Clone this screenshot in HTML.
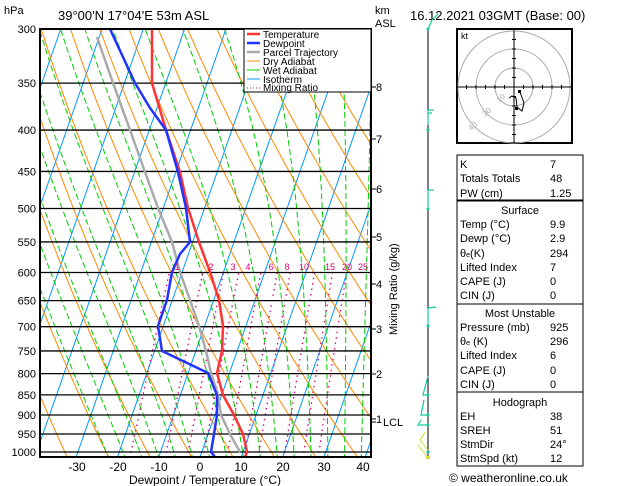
<!DOCTYPE html>
<html><head><meta charset="utf-8"><style>
body{margin:0;background:#fff;width:629px;height:486px;overflow:hidden;font-family:"Liberation Sans",sans-serif}
svg{display:block}
</style></head><body>
<svg id="s" width="629" height="486" xmlns="http://www.w3.org/2000/svg" font-family="Liberation Sans, sans-serif">
<defs><clipPath id="c"><rect x="40" y="29" width="331" height="428"/></clipPath></defs>
<g id="bg" clip-path="url(#c)"></g>
<g id="pl" stroke="#000" stroke-width="1.3"></g>
<g clip-path="url(#c)" fill="none" stroke-width="2.5" stroke-linejoin="round">
<polyline stroke="#aaa" points="97,37 113,83 130,130 145,172 158,208 172,242 180,272 190,300 199,326 206,351 211,373 218,395 221,415 230,434 240,452"/>
<polyline stroke="#f33" points="152,29 152,83 166,130 180,172 188,208 199,242 210,272 219,300 223,326 222,351 217,373 223,395 234,415 243,434 247,452 245,457"/>
<polyline stroke="#2233ff" points="110,29 135,83 150,108 166,130 178,172 186,208 190,242 180,254 172,272 167,300 158,326 162,351 208,373 217,395 217,415 214,434 211,452 215,457"/>
</g>
<rect x="40" y="29" width="331" height="428" fill="none" stroke="#000" stroke-width="2"/>
<g font-size="11" text-anchor="end" id="pt"></g>
<g font-size="12" text-anchor="middle">
<text x="77" y="471">-30</text><text x="118" y="471">-20</text><text x="159" y="471">-10</text><text x="200" y="471">0</text><text x="241" y="471">10</text><text x="283" y="471">20</text><text x="324" y="471">30</text><text x="363" y="471">40</text>
<text x="205" y="484">Dewpoint / Temperature (°C)</text>
</g>
<text x="4" y="14" font-size="11">hPa</text>
<text x="58" y="20" font-size="13">39°00'N  17°04'E  53m  ASL</text>
<text x="375" y="14" font-size="11">km</text><text x="375" y="27" font-size="11">ASL</text>
<text x="410" y="20" font-size="13">16.12.2021  03GMT  (Base: 00)</text>
<g font-size="11" id="km">
<text x="376" y="91">8</text><text x="376" y="143">7</text><text x="376" y="193">6</text><text x="376" y="241">5</text><text x="376" y="288">4</text><text x="376" y="333">3</text><text x="376" y="378">2</text><text x="376" y="423">1</text><text x="383" y="426">LCL</text>
</g>
<g stroke="#000"><line x1="371" y1="87" x2="376" y2="87"/><line x1="371" y1="139" x2="376" y2="139"/><line x1="371" y1="189" x2="376" y2="189"/><line x1="371" y1="237" x2="376" y2="237"/><line x1="371" y1="284" x2="376" y2="284"/><line x1="371" y1="329" x2="376" y2="329"/><line x1="371" y1="374" x2="376" y2="374"/><line x1="371" y1="419" x2="376" y2="419"/><line x1="371" y1="422" x2="376" y2="422"/></g>
<text transform="translate(397,335) rotate(-90)" font-size="11">Mixing Ratio (g/kg)</text>
<g font-size="9" fill="#e0007a" text-anchor="middle">
<text x="177" y="270">1</text><text x="211" y="270">2</text><text x="233" y="270">3</text><text x="248" y="270">4</text><text x="271" y="270">6</text><text x="287" y="270">8</text><text x="304" y="270">10</text><text x="330" y="270">15</text><text x="347" y="270">20</text><text x="363" y="270">25</text>
</g>
<rect x="244" y="29" width="127" height="63" fill="#fff" stroke="#000"/>
<g font-size="10">
<line x1="247" y1="34" x2="260" y2="34" stroke="#f33" stroke-width="2.5"/><text x="263" y="38">Temperature</text>
<line x1="247" y1="43" x2="260" y2="43" stroke="#2233ff" stroke-width="2.5"/><text x="263" y="47">Dewpoint</text>
<line x1="247" y1="52" x2="260" y2="52" stroke="#aaa" stroke-width="2.5"/><text x="263" y="56">Parcel Trajectory</text>
<line x1="247" y1="61" x2="260" y2="61" stroke="#f80"/><text x="263" y="65">Dry Adiabat</text>
<line x1="247" y1="70" x2="260" y2="70" stroke="#0c0"/><text x="263" y="74">Wet Adiabat</text>
<line x1="247" y1="79" x2="260" y2="79" stroke="#09f"/><text x="263" y="83">Isotherm</text>
<line x1="247" y1="88" x2="260" y2="88" stroke="#e0007a" stroke-dasharray="1,2"/><text x="263" y="91">Mixing Ratio</text>
</g>
<!-- wind column -->
<line x1="428" y1="29" x2="428" y2="457" stroke="#000"/>
<g stroke="#1c9" fill="none" stroke-width="1.2">
<polyline points="428,29 432,20 438,14"/><polyline points="428,110 428,125"/><polyline points="428,110 434,110"/><polyline points="428,113 432,113"/>
<polyline points="428,190 428,208"/><polyline points="428,190 434,190"/>
<polyline points="428,308 428,325"/><polyline points="428,308 436,307"/>
<polyline points="428,376 423,395 428,395"/><polyline points="424,400 421,415 428,415"/><polyline points="421,420 418,425 428,425"/>
</g>
<g stroke="#cd3" fill="none"><polyline points="428,450 420,440 425,432"/><polyline points="428,458 418,445"/></g>
<g fill="#1c9"><circle cx="428" cy="29" r="1.5"/><circle cx="428" cy="130" r="1.5"/><circle cx="428" cy="209" r="1.5"/><circle cx="428" cy="326" r="1.5"/><circle cx="428" cy="395" r="1.5"/><circle cx="428" cy="415" r="1.5"/><circle cx="428" cy="425" r="1.5"/><circle cx="428" cy="452" r="1.5"/></g>
<rect x="426" y="456" width="4" height="3" fill="#dd3"/>
<!-- hodograph -->
<rect x="457" y="29" width="115" height="114" fill="#fff" stroke="#000" stroke-width="2"/>
<g fill="none" stroke="#aaa"><circle cx="514" cy="87" r="19"/><circle cx="514" cy="87" r="38"/><circle cx="514" cy="87" r="56"/></g>
<g stroke="#000"><line x1="457" y1="87" x2="572" y2="87"/><line x1="514" y1="29" x2="514" y2="143"/></g>
<g id="ht" stroke="#000"></g>
<text x="461" y="39" font-size="9">kt</text>
<g font-size="8" fill="#aaa"><text x="499" y="103" transform="rotate(-40 499 103)">10</text><text x="485" y="117" transform="rotate(-40 485 117)">30</text><text x="471" y="131" transform="rotate(-40 471 131)">40</text></g>
<polyline points="520,92 524,103 522,111 517,107 516,98 512,96 509,98" fill="none" stroke="#000"/>
<rect x="518" y="90" width="3" height="3"/><rect x="515" y="107" width="3" height="3"/>
<!-- tables -->
<g fill="none" stroke="#000"><rect x="457" y="155" width="126" height="45"/><rect x="457" y="201" width="126" height="103"/><rect x="457" y="304" width="126" height="88"/><rect x="457" y="392" width="126" height="74"/></g>
<g font-size="11">
<text x="460" y="168">K</text><text x="550" y="168">7</text>
<text x="460" y="182">Totals Totals</text><text x="550" y="182">48</text>
<text x="460" y="197">PW (cm)</text><text x="550" y="197">1.25</text>
<text x="520" y="214" text-anchor="middle">Surface</text>
<text x="460" y="228">Temp (°C)</text><text x="550" y="228">9.9</text>
<text x="460" y="242">Dewp (°C)</text><text x="550" y="242">2.9</text>
<text x="460" y="257">θ<tspan font-size="7">e</tspan>(K)</text><text x="550" y="257">294</text>
<text x="460" y="271">Lifted Index</text><text x="550" y="271">7</text>
<text x="460" y="285">CAPE (J)</text><text x="550" y="285">0</text>
<text x="460" y="299">CIN (J)</text><text x="550" y="299">0</text>
<text x="520" y="317" text-anchor="middle">Most Unstable</text>
<text x="460" y="331">Pressure (mb)</text><text x="550" y="331">925</text>
<text x="460" y="345">θ<tspan font-size="7">e</tspan> (K)</text><text x="550" y="345">296</text>
<text x="460" y="359">Lifted Index</text><text x="550" y="359">6</text>
<text x="460" y="374">CAPE (J)</text><text x="550" y="374">0</text>
<text x="460" y="388">CIN (J)</text><text x="550" y="388">0</text>
<text x="520" y="406" text-anchor="middle">Hodograph</text>
<text x="460" y="420">EH</text><text x="550" y="420">38</text>
<text x="460" y="434">SREH</text><text x="550" y="434">51</text>
<text x="460" y="448">StmDir</text><text x="550" y="448">24°</text>
<text x="460" y="462">StmSpd (kt)</text><text x="550" y="462">12</text>
<text x="449" y="482" font-size="12">© weatheronline.co.uk</text>
</g>
</svg>
<script>
var NS="http://www.w3.org/2000/svg";
function Y(p){return 29+423*Math.log(p/300)/Math.log(1000/300);}
function X(T,p){return 200+4.13*T+0.35*(457-Y(p));}
function el(par,tag,a){var e=document.createElementNS(NS,tag);for(var k in a)e.setAttribute(k,a[k]);document.getElementById(par).appendChild(e);return e;}
function line(pts,st,dash,w){el("bg","polyline",{points:pts.map(function(q){return q[0].toFixed(1)+","+q[1].toFixed(1)}).join(" "),fill:"none",stroke:st,"stroke-width":w||1,"stroke-dasharray":dash||"none"});}
var P=[];for(var p=1050;p>=290;p-=10)P.push(p);
// isotherms
for(var T=-120;T<=50;T+=10){line([[X(T,1050),Y(1050)],[X(T,290),Y(290)]],"#09f");}
// dry adiabats
for(var th=230;th<=480;th+=10){line(P.map(function(p){var t=th*Math.pow(p/1000,0.286)-273.15;return [X(t,p),Y(p)]}),"#f80");}
// wet adiabats
function es(t){return 6.112*Math.exp(17.67*t/(t+243.5));}
function gam(t,p){var T=t+273.15,e=es(t),r=0.622*e/(p-e),L=2.5e6;var num=(287*T+L*r)/(1004+L*L*r*0.622/(287*T*T));return num/p;}
for(var t0=-20;t0<=40;t0+=4){var pts=[],t=t0,p=1050;pts.push([X(t,p),Y(p)]);while(p>290){var dp=-5;t+=gam(t,p)*dp;p+=dp;pts.push([X(t,p),Y(p)]);}line(pts,"#0c0","6,3");}
// mixing ratio
[1,2,3,4,6,8,10,15,20,25].forEach(function(w){var pts=[];for(var p=1050;p>=600;p-=10){var e=w*p/(622+w),l=Math.log(e/6.112),td=243.5*l/(17.67-l);pts.push([X(td,p),Y(p)]);}line(pts,"#e0007a","1.5,4",1.3);});
// pressure lines
[300,350,400,450,500,550,600,650,700,750,800,850,900,950,1000].forEach(function(p){var y=Y(p);el("pl","line",{x1:40,x2:371,y1:y,y2:y});var t=el("pt","text",{x:36,y:y+4});t.textContent=p;});
// hodo ticks
for(var i=-5;i<=5;i++){if(!i)continue;el("ht","line",{x1:514+i*9.5,x2:514+i*9.5,y1:85,y2:89});el("ht","line",{x1:512,x2:516,y1:87+i*9.5,y2:87+i*9.5});}
</script>
</body></html>
